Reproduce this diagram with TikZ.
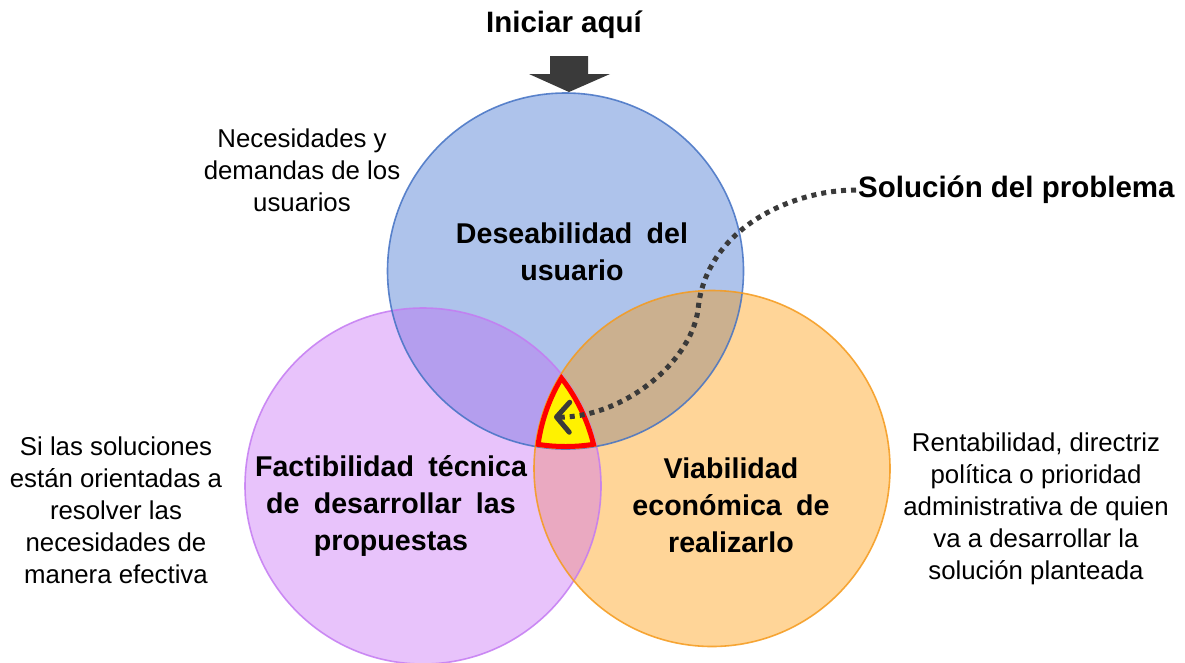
\documentclass[tikz,border=0pt]{standalone}
\usepackage{fontspec}
\setmainfont{Liberation Sans}
\usetikzlibrary{arrows.meta}

\definecolor{desfill}{HTML}{AEC3EB}
\definecolor{facfill}{HTML}{E8C3FB}
\definecolor{viafill}{HTML}{FFD598}
\definecolor{desfac}{HTML}{B49EEE}
\definecolor{desvia}{HTML}{CBB08F}
\definecolor{facvia}{HTML}{EAA9C1}
\definecolor{desline}{HTML}{4472C4}
\definecolor{facline}{HTML}{C47BF2}
\definecolor{vialine}{HTML}{F59A1C}
\definecolor{darkgray}{HTML}{3A3A3A}

\newcommand\widesp{\spaceskip=0.5em plus 0.1em\relax}

\tikzset{
  circ/.style={line width=1.6pt, draw opacity=0.85},
  title/.style={font=\bfseries\fontsize{29.5}{31}\selectfont, inner sep=2pt},
  lbl/.style={font=\bfseries\fontsize{28.6}{37}\selectfont,
    execute at begin node=\widesp, align=center},
  note/.style={font=\fontsize{25.8}{32}\selectfont, align=center},
  dotline/.style={darkgray, line width=5pt, dash pattern=on 5pt off 5pt,
    -{Straight Barb[length=13pt, width=30pt, round]}},
}

\begin{document}
\begin{tikzpicture}[x=1pt,y=-1pt]
    \useasboundingbox (0,0) rectangle (1185,662);
    % centres of the three circles
    \coordinate (des) at (565.5,271);
    \coordinate (fac) at (423,486);
    \coordinate (via) at (712,468.5);

    % fills
    \fill[facfill] (fac) circle[radius=178pt];
    \fill[desfill] (des) circle[radius=178pt];
    \fill[viafill] (via) circle[radius=178pt];
    \begin{scope}
        \clip (des) circle[radius=178pt];
        \fill[desfac] (fac) circle[radius=178pt];
        \fill[desvia] (via) circle[radius=178pt];
    \end{scope}
    \begin{scope}
        \clip (fac) circle[radius=178pt];
        \fill[facvia] (via) circle[radius=178pt];
    \end{scope}

    % outlines
    \draw[facline, circ] (fac) circle[radius=178pt];
    \draw[desline, circ] (des) circle[radius=178pt];
    \draw[vialine, circ] (via) circle[radius=178pt];

    % the solution, where all three meet
    \begin{scope}
        \clip (des) circle[radius=178pt];
        \clip (fac) circle[radius=178pt];
        \clip (via) circle[radius=178pt];
        \fill[yellow] (via) circle[radius=178pt];
        \draw[red, line width=10pt] (des) circle[radius=178pt]
            (fac) circle[radius=178pt] (via) circle[radius=178pt];
    \end{scope}
    \coordinate (tip) at (554,417);

    % labels inside the circles
    \node[lbl] (deslbl) at (572,252) {Deseabilidad del\\usuario};
    \node[lbl] (faclbl) at (391,506) {Factibilidad técnica\\de desarrollar las\\propuestas};
    \node[lbl] (vialbl) at (731,505) {Viabilidad\\económica de\\realizarlo};

    % notes outside
    \node[note] (desnote) at (302,170) {Necesidades y\\demandas de los\\usuarios};
    \node[note] (facnote) at (116,510) {Si las soluciones\\están orientadas a\\resolver las\\necesidades de\\manera efectiva};
    \node[note] (vianote) at (1036,509) {Rentabilidad, directriz\\política o prioridad\\administrativa de quien\\va a desarrollar la\\solución planteada};

    % start here
    \node[title] (start) at (564,25) {Iniciar aquí};
    \fill[darkgray] (550,56) -- (588,56) -- (588,74) -- (610,74) -- (569,92)
        -- (529,74) -- (550,74) -- cycle;

    % pointer to the solution
    \node[title, anchor=west] (sol) at (856,190) {Solución del problema};
    \draw[dotline] (sol.west) .. controls (790,190) and (705,230) .. (698,310)
        .. controls (690,365) and (620,418) .. (tip);
\end{tikzpicture}
\end{document}
